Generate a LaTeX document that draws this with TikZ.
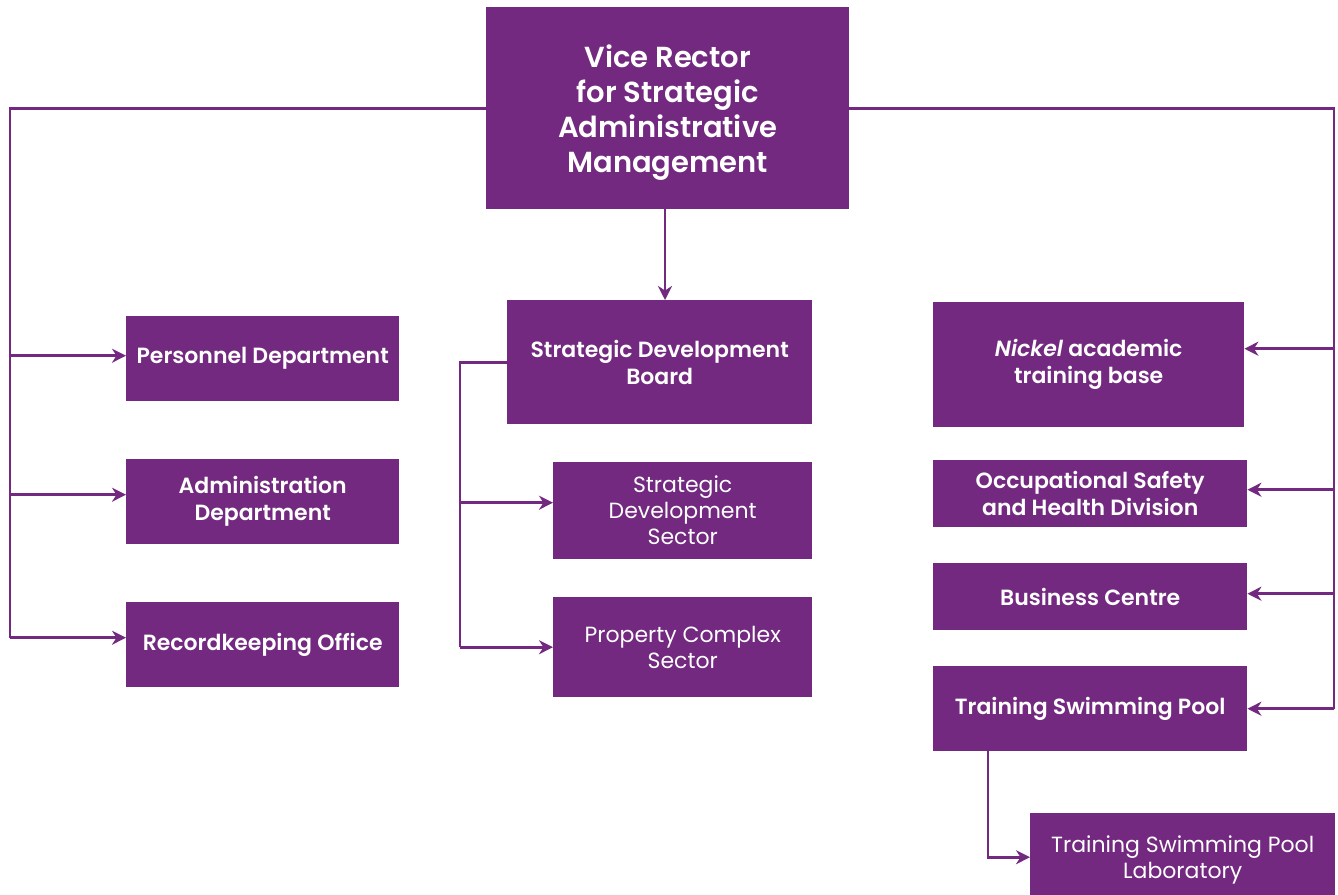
\documentclass[tikz,border=0pt]{standalone}
\usepackage{fontspec}
\setmainfont{Poppins}[BoldFont={Poppins SemiBold},BoldItalicFont={Poppins SemiBold Italic}]
\usetikzlibrary{arrows.meta,calc}
\definecolor{vr}{RGB}{114,41,127}
\begin{document}
\begin{tikzpicture}[x=1pt,y=1pt,
  box/.style={fill=vr,draw=none,text=white,anchor=north west,inner sep=0pt,align=center},
  bold/.style={font=\fontsize{22}{27}\selectfont\bfseries},
  thin/.style={font=\fontsize{22}{26}\selectfont},
  conn/.style={draw=vr,line width=2.8pt},
  arr/.style={conn,-{Stealth[length=14pt,width=14pt,inset=4.5pt]}}]
\useasboundingbox (0,0) rectangle (1338,-894);
\fill[white] (0,0) rectangle (1338,-894);
% top
\node[box,minimum width=363,minimum height=202,font=\fontsize{29}{35}\selectfont\bfseries] (vr) at (486,-7) {\raisebox{-11pt}[0pt][0pt]{\parbox{360pt}{\centering Vice Rector\\for Strategic\\Administrative\\Management}}};
% left column
\node[box,bold,minimum width=273,minimum height=85] (pd) at (126,-316) {Personnel Department};
\node[box,bold,minimum width=273,minimum height=85] (ad) at (126,-459) {Administration\\Department};
\node[box,bold,minimum width=273,minimum height=85] (ro) at (126,-602) {Recordkeeping Office};
% middle column
\node[box,bold,minimum width=305,minimum height=124] (sdb) at (507,-300) {Strategic Development\\Board};
\node[box,thin,minimum width=259,minimum height=97] (sds) at (553,-462) {Strategic\\Development\\Sector};
\node[box,thin,minimum width=259,minimum height=100] (pcs) at (553,-597) {Property Complex\\Sector};
% right column
\node[box,bold,minimum width=311,minimum height=125] (nk) at (933,-302) {\textit{Nickel} academic\\training base};
\node[box,bold,minimum width=314,minimum height=67] (osh) at (933,-460) {Occupational Safety\\and Health Division};
\node[box,bold,minimum width=314,minimum height=67] (bc) at (933,-563) {Business Centre};
\node[box,bold,minimum width=314,minimum height=85] (tsp) at (933,-666) {Training Swimming Pool};
\node[box,thin,minimum width=305,minimum height=94] (lab) at (1030,-813) {Training Swimming Pool\\Laboratory};
% bus coordinates
\coordinate (lx) at (10,0);
\coordinate (rx) at (1334,0);
\coordinate (mx) at (460,0);
\coordinate (tx) at (988,0);
% top to board
\draw[arr] (vr.south -| 665,0) -- (sdb.north -| 665,0);
% left bus
\draw[conn] (vr.west) -| ([yshift=7]lx |- ro.west);
\draw[arr] ([yshift=3]lx |- pd.west) -- ([yshift=3]pd.west);
\draw[arr] ([yshift=7]lx |- ad.west) -- ([yshift=7]ad.west);
\draw[arr] ([yshift=7]lx |- ro.west) -- ([yshift=7]ro.west);
% right bus
\draw[conn] (vr.east) -| (rx |- tsp.east);
\draw[arr] ([yshift=16]rx |- nk.east) -- ([yshift=16]nk.east);
\draw[arr] ([yshift=4]rx |- osh.east) -- ([yshift=4]osh.east);
\draw[arr] ([yshift=3]rx |- bc.east) -- ([yshift=3]bc.east);
\draw[arr] (rx |- tsp.east) -- (tsp.east);
% board bus
\draw[conn] (sdb.west) -| (mx |- pcs.west);
\draw[arr] ([yshift=8]mx |- sds.west) -- ([yshift=8]sds.west);
\draw[arr] (mx |- pcs.west) -- (pcs.west);
% pool to lab
\draw[arr] (tx |- tsp.south) |- ([yshift=3]lab.west);
\end{tikzpicture}
\end{document}
